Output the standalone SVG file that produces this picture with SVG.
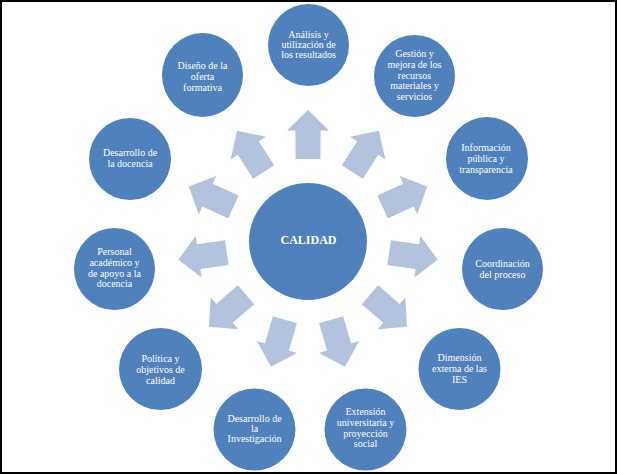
<svg xmlns="http://www.w3.org/2000/svg" xmlns:xlink="http://www.w3.org/1999/xlink" width="617" height="474" viewBox="0 0 617 474">
<style>
.n{fill:#4F81BD}
.t{font-family:"Liberation Serif","Times New Roman",serif;font-size:10px;fill:#FFFFFF;text-anchor:middle}
.c{font-family:"Liberation Serif","Times New Roman",serif;font-size:12px;font-weight:bold;fill:#FFFFFF;text-anchor:middle}
.a{fill:#B3C2DD}
</style>
<defs>
<path id="arr" d="M82,-12.5 L110.5,-12.5 L110.5,-21 L131,0 L110.5,21 L110.5,12.5 L82,12.5 Z"/>
</defs>
<rect x="0" y="0" width="617" height="474" fill="#FFFFFF"/>
<rect x="1" y="1" width="615" height="472" fill="none" stroke="#000000" stroke-width="2"/>
<g id="connectors" class="a">
<use xlink:href="#arr" transform="translate(308,241) rotate(-90)"/>
<use xlink:href="#arr" transform="translate(308,241) rotate(-57.27)"/>
<use xlink:href="#arr" transform="translate(308,241) rotate(-24.55)"/>
<use xlink:href="#arr" transform="translate(308,241) rotate(8.18)"/>
<use xlink:href="#arr" transform="translate(308,241) rotate(40.91)"/>
<use xlink:href="#arr" transform="translate(308,241) rotate(73.64)"/>
<use xlink:href="#arr" transform="translate(308,241) rotate(106.36)"/>
<use xlink:href="#arr" transform="translate(308,241) rotate(139.09)"/>
<use xlink:href="#arr" transform="translate(308,241) rotate(171.82)"/>
<use xlink:href="#arr" transform="translate(308,241) rotate(204.55)"/>
<use xlink:href="#arr" transform="translate(308,241) rotate(237.27)"/>
</g>
<g id="calidad">
<ellipse class="n" cx="308" cy="241.5" rx="59" ry="58.5"/>
<text class="c" x="308.5" y="243.5">CALIDAD</text>
</g>
<g id="analisis">
<ellipse class="n" cx="308.5" cy="45" rx="40.5" ry="41"/>
<text class="t" x="308.5" y="38">Análisis y</text>
<text class="t" x="308.5" y="48">utilización de</text>
<text class="t" x="308.5" y="58">los resultados</text>
</g>
<g id="gestion">
<ellipse class="n" cx="414.5" cy="76" rx="40.5" ry="41"/>
<text class="t" x="414.5" y="57">Gestión y</text>
<text class="t" x="414.5" y="68">mejora de los</text>
<text class="t" x="414.5" y="78.5">recursos</text>
<text class="t" x="414.5" y="89">materiales  y</text>
<text class="t" x="414.5" y="99.5">servicios</text>
</g>
<g id="informacion">
<ellipse class="n" cx="487" cy="158.5" rx="41" ry="41.5"/>
<text class="t" x="486" y="151">Información</text>
<text class="t" x="486" y="162">pública y</text>
<text class="t" x="486" y="172.5">transparencia</text>
</g>
<g id="coordinacion">
<ellipse class="n" cx="502.5" cy="269" rx="40.5" ry="41"/>
<text class="t" x="502.5" y="267">Coordinación</text>
<text class="t" x="502.5" y="278">del proceso</text>
</g>
<g id="dimension">
<ellipse class="n" cx="459.5" cy="369" rx="41" ry="41"/>
<text class="t" x="459.5" y="361">Dimensión</text>
<text class="t" x="459.5" y="372">externa  de  las</text>
<text class="t" x="459.5" y="383">IES</text>
</g>
<g id="extension">
<ellipse class="n" cx="365.5" cy="429.5" rx="41" ry="41"/>
<text class="t" x="365.5" y="415">Extensión</text>
<text class="t" x="365.5" y="426">universitaria y</text>
<text class="t" x="365.5" y="436.5">proyección</text>
<text class="t" x="365.5" y="447">social</text>
</g>
<g id="investigacion">
<ellipse class="n" cx="254.5" cy="429.5" rx="41" ry="41"/>
<text class="t" x="254.5" y="421.5">Desarrollo  de</text>
<text class="t" x="254.5" y="432">la</text>
<text class="t" x="254.5" y="442">Investigación</text>
</g>
<g id="politica">
<ellipse class="n" cx="160.5" cy="369" rx="41.5" ry="41"/>
<text class="t" x="160.5" y="361.5">Política y</text>
<text class="t" x="160.5" y="372.5">objetivos de</text>
<text class="t" x="160.5" y="383.5">calidad</text>
</g>
<g id="personal">
<ellipse class="n" cx="114.5" cy="269" rx="40.5" ry="41"/>
<text class="t" x="114.5" y="255">Personal</text>
<text class="t" x="114.5" y="266">académico  y</text>
<text class="t" x="114.5" y="276.5">de apoyo a la</text>
<text class="t" x="114.5" y="287">docencia</text>
</g>
<g id="docencia">
<ellipse class="n" cx="130" cy="159" rx="41" ry="41"/>
<text class="t" x="130" y="156">Desarrollo  de</text>
<text class="t" x="130" y="167">la docencia</text>
</g>
<g id="diseno">
<ellipse class="n" cx="202.5" cy="75" rx="40.5" ry="42"/>
<text class="t" x="202.5" y="68.5">Diseño de la</text>
<text class="t" x="202.5" y="79.5">oferta</text>
<text class="t" x="202.5" y="90.5">formativa</text>
</g>
</svg>
